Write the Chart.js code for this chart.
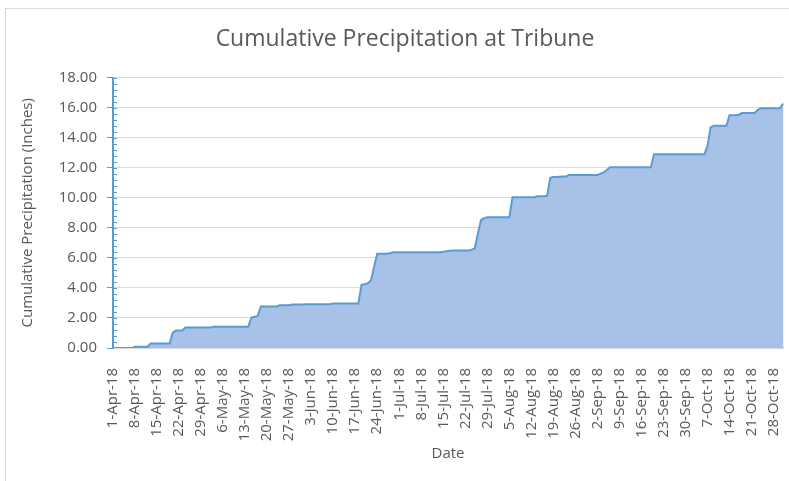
<!DOCTYPE html>
<html>
<head>
<meta charset="utf-8">
<script src="https://cdn.jsdelivr.net/npm/chart.js@4"></script>
<style>
    html, body { margin: 0; padding: 0; overflow: hidden; background: #fff; }
    #frame { position: absolute; left: 5px; top: 8px; width: 900px; height: 600px; border: 1px solid #D9D9D9; }
    #wrap { position: absolute; left: 0; top: 0; }
</style>
</head>
<body>
<div id="frame"></div>
<div id="wrap"><canvas id="precipChart" width="810" height="481"></canvas></div>
<script>
// months covered, with day counts
const months = [['Apr', 30], ['May', 31], ['Jun', 30], ['Jul', 31], ['Aug', 31], ['Sep', 30], ['Oct', 31]];

// cumulative precipitation (inches), one value per day
const aprValues = [0, 0, 0, 0, 0, 0, 0, 0.08, 0.08, 0.08, 0.08, 0.08, 0.3, 0.3, 0.3, 0.3, 0.3, 0.3, 0.3,
    1.02, 1.16, 1.16, 1.16, 1.36, 1.36, 1.36, 1.36, 1.36, 1.36, 1.36];
const mayValues = [1.36, 1.36, 1.42, 1.42, 1.42, 1.42, 1.42, 1.42, 1.42, 1.42, 1.42, 1.42, 1.42, 1.42,
    2.02, 2.08, 2.13, 2.76, 2.76, 2.76, 2.76, 2.76, 2.76, 2.84, 2.84, 2.84, 2.84, 2.89, 2.89, 2.89, 2.89];
const junValues = [2.91, 2.91, 2.91, 2.91, 2.91, 2.91, 2.91, 2.91, 2.91, 2.97, 2.97, 2.97, 2.97, 2.97, 2.97,
    2.97, 2.97, 2.97, 4.2, 4.25, 4.31, 4.49, 5.4, 6.28, 6.28, 6.28, 6.28, 6.31, 6.38, 6.38];
const julValues = [6.38, 6.38, 6.38, 6.38, 6.38, 6.38, 6.38, 6.38, 6.38, 6.38, 6.38, 6.38, 6.38, 6.38,
    6.4, 6.44, 6.47, 6.49, 6.49, 6.49, 6.49, 6.49, 6.49, 6.55, 6.62, 7.6, 8.53, 8.65, 8.71, 8.71, 8.71];
const augValues = [8.71, 8.71, 8.71, 8.71, 8.71, 10.04, 10.04, 10.04, 10.04, 10.04, 10.04, 10.04, 10.04,
    10.1, 10.1, 10.1, 10.13, 11.33, 11.38, 11.38, 11.4, 11.42, 11.42, 11.51, 11.51, 11.51, 11.51, 11.51,
    11.51, 11.51, 11.51];
const sepValues = [11.51, 11.51, 11.6, 11.69, 11.85, 12.03, 12.03, 12.03, 12.03, 12.03, 12.03, 12.03,
    12.03, 12.03, 12.03, 12.03, 12.03, 12.03, 12.03, 12.89, 12.89, 12.89, 12.89, 12.89, 12.89, 12.89,
    12.89, 12.89, 12.89, 12.89];
const octValues = [12.89, 12.89, 12.89, 12.89, 12.89, 12.89, 13.45, 14.7, 14.79, 14.79, 14.79, 14.79,
    14.79, 15.5, 15.5, 15.5, 15.53, 15.64, 15.64, 15.64, 15.64, 15.64, 15.85, 15.96, 15.96, 15.96, 15.96,
    15.96, 15.96, 15.96, 16.27];

const yTicks = [0, 2, 4, 6, 8, 10, 12, 14, 16, 18];
const labelEvery = 7;

const precipValues = [].concat(aprValues, mayValues, junValues, julValues, augValues, sepValues, octValues);

const dayLabels = [];
months.forEach(([name, days]) => {
    for (let d = 1; d <= days; d++) dayLabels.push(d + '-' + name + '-18');
});

const textColor = '#595959';
const axisBlue = '#5B9BD5';
const gridGrey = '#D9D9D9';
const fontFamily = "'Open Sans', 'Noto Sans', sans-serif";

// faint vertical drop lines inside the area, plus minor ticks on the value axis
const extrasPlugin = {
    id: 'extras',
    beforeDatasetsDraw(chart) {
        const { ctx, chartArea } = chart;
        const meta = chart.getDatasetMeta(0);
        ctx.save();
        ctx.strokeStyle = 'rgba(105,140,195,0.22)';
        ctx.lineWidth = 1;
        meta.data.forEach(pt => {
            if (pt.y >= chartArea.bottom - 1) return;
            ctx.beginPath();
            ctx.moveTo(pt.x, pt.y);
            ctx.lineTo(pt.x, chartArea.bottom);
            ctx.stroke();
        });
        ctx.restore();
    },
    afterDraw(chart) {
        const { ctx } = chart;
        const y = chart.scales.y;
        ctx.save();
        ctx.strokeStyle = axisBlue;
        ctx.lineWidth = 1;
        for (let i = 1; i <= 45; i++) {
            const py = Math.round(y.getPixelForValue(i * 0.4)) + 0.5;
            ctx.beginPath();
            ctx.moveTo(y.right, py);
            ctx.lineTo(y.right + 4, py);
            ctx.stroke();
        }
        ctx.restore();
    }
};

new Chart(document.getElementById('precipChart'), {
    type: 'line',
    data: {
        labels: dayLabels,
        datasets: [{
            label: 'Cumulative Precipitation',
            data: precipValues,
            fill: 'origin',
            backgroundColor: '#A7C2E6',
            borderColor: axisBlue,
            borderWidth: 2,
            pointRadius: 0,
            tension: 0
        }]
    },
    options: {
        responsive: false,
        animation: false,
        layout: { padding: 0 },
        plugins: {
            legend: { display: false },
            tooltip: { enabled: false },
            title: {
                display: true,
                text: 'Cumulative Precipitation at Tribune',
                color: textColor,
                font: { family: fontFamily, size: 23, weight: 'normal' },
                padding: { top: 26, bottom: 24 }
            }
        },
        scales: {
            x: {
                offset: false,
                grid: { display: false },
                border: { display: true, color: gridGrey, width: 2 },
                ticks: {
                    autoSkip: false,
                    maxRotation: 90,
                    minRotation: 90,
                    padding: 12,
                    color: textColor,
                    font: { family: fontFamily, size: 15 },
                    callback: (v, i) => (i % labelEvery === 0 ? dayLabels[i] : null)
                },
                title: {
                    display: true,
                    text: 'Date',
                    color: textColor,
                    font: { family: fontFamily, size: 15 },
                    padding: { top: 0, bottom: 18 }
                },
                afterFit: scale => { scale.height = 133; }
            },
            y: {
                min: 0,
                max: 18,
                afterBuildTicks: scale => { scale.ticks = yTicks.map(v => ({ value: v })); },
                grid: { color: gridGrey, lineWidth: 1, drawTicks: true, tickLength: 6, tickColor: axisBlue },
                border: { display: true, color: axisBlue, width: 2 },
                ticks: {
                    padding: 10,
                    color: textColor,
                    font: { family: fontFamily, size: 15 },
                    callback: v => Number(v).toFixed(2)
                },
                title: {
                    display: true,
                    text: 'Cumulative Precipitation (Inches)',
                    color: textColor,
                    font: { family: fontFamily, size: 15 },
                    padding: { top: 19, bottom: 0 }
                },
                afterFit: scale => { scale.width = 113; }
            },
            // empty right-hand gutter so the title centres on the whole chart box
            gutter: {
                type: 'linear',
                position: 'right',
                min: 0,
                max: 18,
                grid: { display: false },
                border: { display: false },
                ticks: { display: false },
                afterFit: scale => { scale.width = 27; }
            }
        }
    },
    plugins: [extrasPlugin]
});
</script>
</body>
</html>
